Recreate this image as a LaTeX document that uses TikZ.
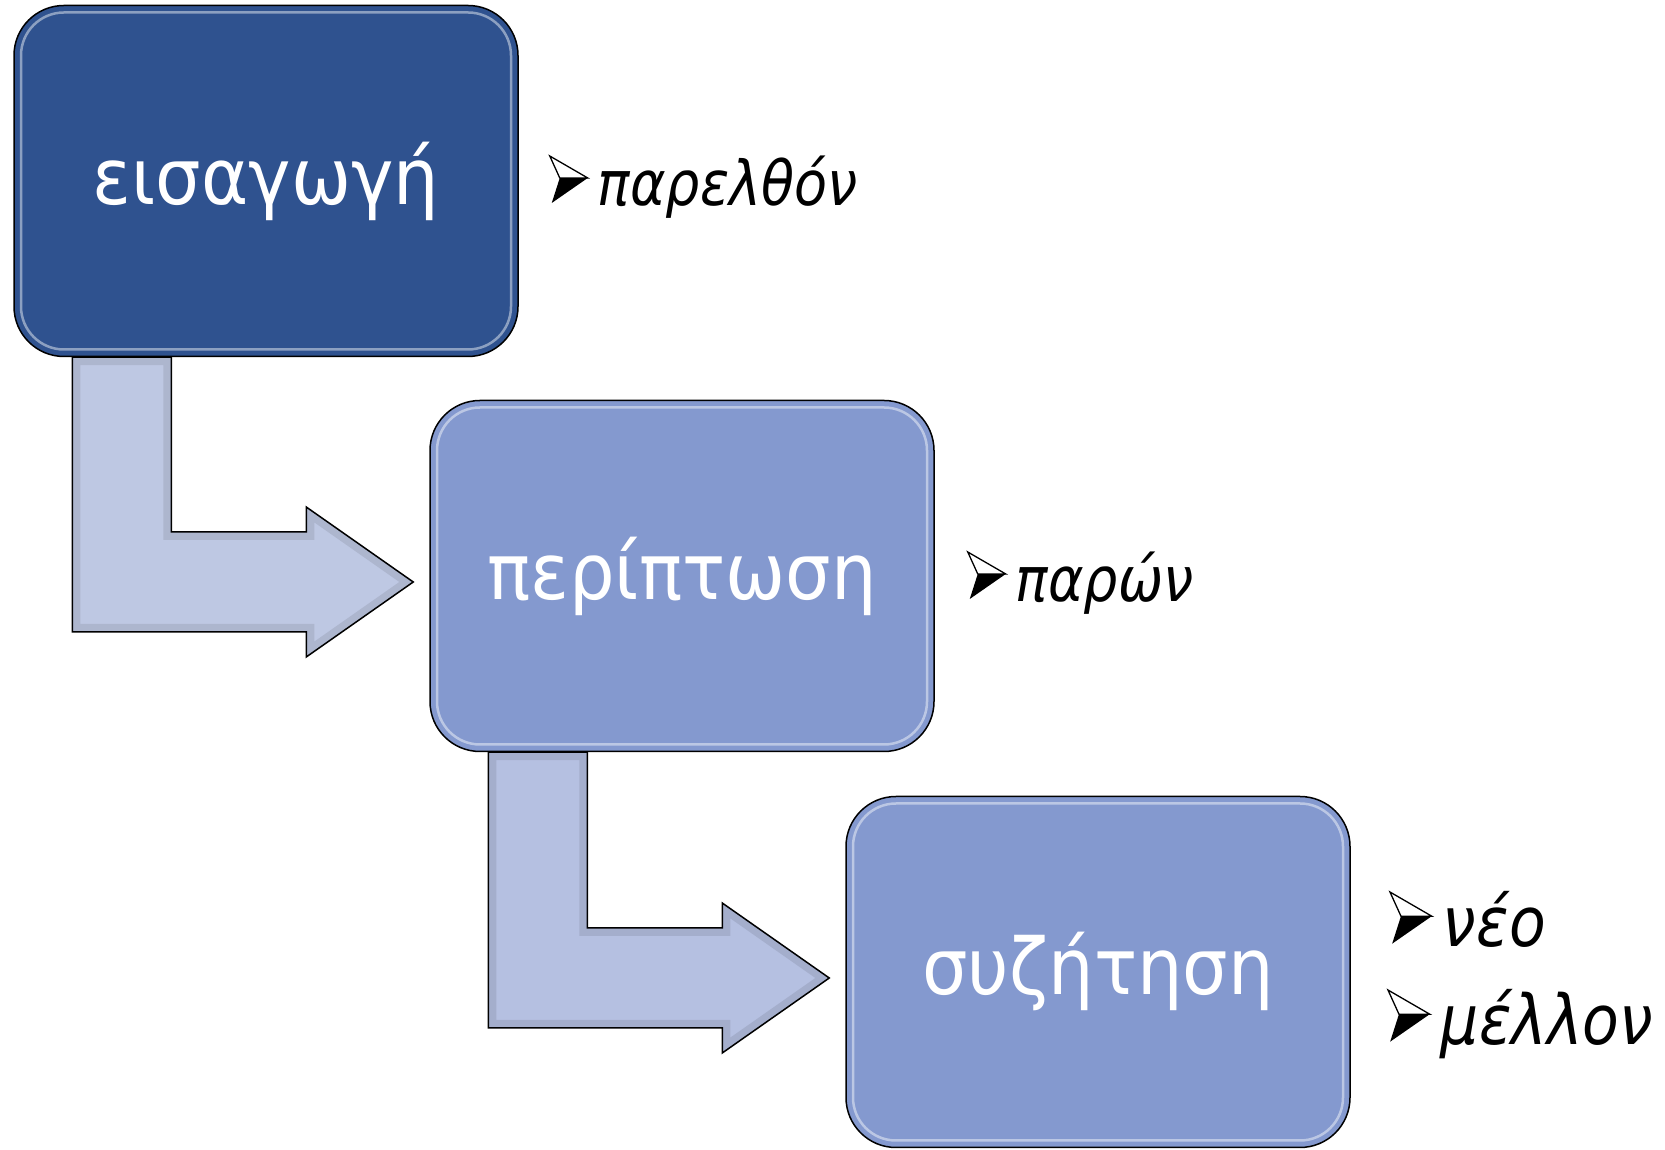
\documentclass[tikz,border=0pt]{standalone}
\usepackage{fontspec}
\setmainfont{DejaVu Sans}
\newfontfamily\boxfont[FakeStretch=0.92]{DejaVu Sans}
\newfontfamily\labfont[FakeStretch=0.87]{DejaVu Sans}
\usetikzlibrary{calc,backgrounds}
\definecolor{dkblue}{RGB}{47,82,143}
\definecolor{mdblue}{RGB}{132,153,207}
\definecolor{arrA}{RGB}{190,200,227}
\definecolor{arrB}{RGB}{181,192,225}
\newcommand{\bentpath}[2]{(#1) -- ++(99,0) |- ($(#2)+(-107,50)$) -- ++(0,25) -- (#2)
  -- ($(#2)+(-107,-75)$) -- ++(0,25) -| (#1) -- cycle}
\tikzset{
  arrowbullet/.pic={
    \fill[black] (-38,28) -- (-10,28) -- (-46,3) -- cycle;
    \draw[black, line width=1.3pt, fill=white, line join=miter] (-48,50) -- (-10,28) -- (-38,28) -- cycle;
  }
}
\begin{document}
\begin{tikzpicture}[x=1pt,y=1pt,
  box/.style={rectangle, rounded corners=50pt, draw=black, line width=1.5pt,
    minimum width=504pt, minimum height=351pt, text=white, inner sep=0pt,
    font=\boxfont\fontsize{78}{90}\selectfont,
    path picture={\draw[white, opacity=.45, line width=2.5pt, rounded corners=43pt]
      ($(path picture bounding box.south west)+(7,7)$) rectangle
      ($(path picture bounding box.north east)+(-7,-7)$);}},
  bentarrow/.style={draw=black, line width=1.5pt, line join=miter},
  rim/.style={line width=16pt, opacity=.2},
  lab/.style={anchor=base west, inner sep=0pt, font=\labfont\itshape\fontsize{62}{72}\selectfont},
  labbig/.style={lab, font=\labfont\itshape\fontsize{69}{80}\selectfont},
]
\path[use as bounding box] (0,0) rectangle (1665,1150);
\node[box, fill=dkblue] (b1) at (266,969) {εισαγωγή};
\node[box, fill=mdblue] (b2) at (682,574) {περίπτωση};
\node[box, fill=mdblue] (b3) at (1098,178) {συζήτηση};

\coordinate (s1) at ($(b1.south west)+(59,0)$);
\coordinate (t1) at ($(b2.west)+(-16,-6)$);
\coordinate (s2) at ($(b2.south west)+(59,0)$);
\coordinate (t2) at ($(b3.west)+(-16,-6)$);
\begin{pgfonlayer}{background}
\fill[arrA] \bentpath{s1}{t1};
\begin{scope}
  \clip \bentpath{s1}{t1};
  \draw[rim, arrA!55!black] \bentpath{s1}{t1};
\end{scope}
\draw[bentarrow] \bentpath{s1}{t1};
\fill[arrB] \bentpath{s2}{t2};
\begin{scope}
  \clip \bentpath{s2}{t2};
  \draw[rim, arrB!55!black] \bentpath{s2}{t2};
\end{scope}
\draw[bentarrow] \bentpath{s2}{t2};
\end{pgfonlayer}

\node[lab] (l1) at ($(b1.east)+(79,-25)$) {παρελθόν};
\node[lab] (l2) at ($(b2.east)+(81,-26)$) {παρών};
\node[labbig] (l3) at ($(b3.east)+(92,25)$) {νέο};
\node[labbig] (l4) at ($(b3.east)+(90,-73)$) {μέλλον};
\pic at (l1.base west) {arrowbullet};
\pic at (l2.base west) {arrowbullet};
\pic[scale=1.1] at (l3.base west) {arrowbullet};
\pic[scale=1.1] at (l4.base west) {arrowbullet};
\end{tikzpicture}
\end{document}
